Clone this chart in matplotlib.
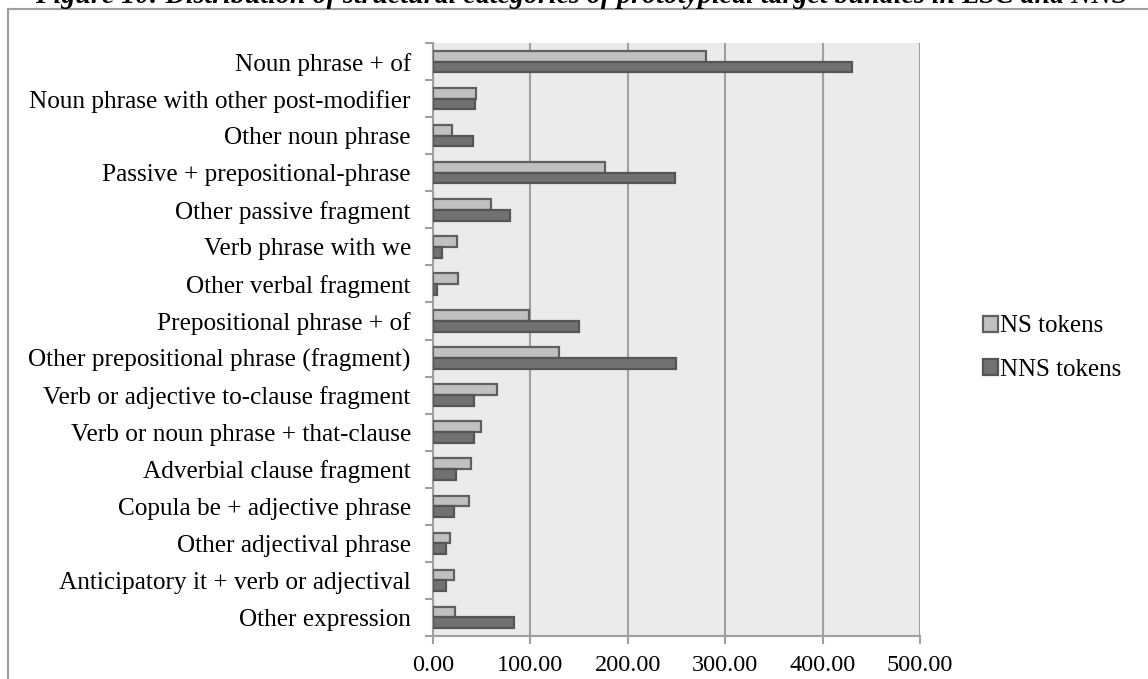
import matplotlib.pyplot as plt
from matplotlib.lines import Line2D
import numpy as np

categories = [
    "Noun phrase + of",
    "Noun phrase with other post-modifier",
    "Other noun phrase",
    "Passive + prepositional-phrase",
    "Other passive fragment",
    "Verb phrase with we",
    "Other verbal fragment",
    "Prepositional phrase + of",
    "Other prepositional phrase (fragment)",
    "Verb or adjective to-clause fragment",
    "Verb or noun phrase + that-clause",
    "Adverbial clause fragment",
    "Copula be + adjective phrase",
    "Other adjectival phrase",
    "Anticipatory it + verb or adjectival",
    "Other expression",
]
ns_tokens = [280, 44, 20, 177, 60, 25, 26, 99, 129, 66, 49, 39, 37, 17, 22, 23]
nns_tokens = [430, 43, 41, 248, 79, 9, 4.5, 150, 249, 42, 42, 24, 22, 13, 13, 83]
x_ticks = [0, 100, 200, 300, 400, 500]
title = "Figure 10: Distribution of structural categories of prototypical target bundles in LSC and NNS"

plt.rcParams['font.family'] = ['Liberation Serif', 'DejaVu Serif']

fig = plt.figure(figsize=(11.48, 6.79), dpi=100)
ax = fig.add_axes([433/1148, 1 - 636/679, (920 - 433)/1148, (636 - 43)/679])

grey = '#a0a0a0'
ax.set_facecolor('#ebebeb')
y = np.arange(len(categories))
h = 0.29
ax.barh(y - h/2, ns_tokens, height=h, color='#c0c0c0', edgecolor='#606060', linewidth=1.6, label='NS tokens', zorder=3)
ax.barh(y + h/2, nns_tokens, height=h, color='#717171', edgecolor='#555555', linewidth=1.6, label='NNS tokens', zorder=3)

ax.set_xlim(0, 500)
ax.set_ylim(len(categories) - 0.5, -0.5)
ax.set_xticks(x_ticks)
ax.set_xticklabels([f"{v:.2f}" for v in x_ticks], fontsize=17.5)
ax.set_yticks(y)
ax.set_yticklabels(categories, fontsize=18.2)
ax.set_yticks(np.arange(len(categories) + 1) - 0.5, minor=True)
ax.tick_params(axis='y', which='major', length=0, pad=16)
ax.tick_params(axis='y', which='minor', length=6, width=1.5, color=grey)
ax.tick_params(axis='x', length=6, width=1.5, color=grey, pad=8)
ax.grid(True, axis='x', color=grey, linewidth=1.5, zorder=1)
for s in ['top', 'right']:
    ax.spines[s].set_visible(False)
for s in ['left', 'bottom']:
    ax.spines[s].set_color(grey)
    ax.spines[s].set_linewidth(1.5)

leg = fig.legend(loc='upper left', bbox_to_anchor=(970/1148, 1 - 303/679), frameon=False,
                 fontsize=18, handlelength=0.6, handleheight=0.6, handletextpad=0.1,
                 labelspacing=0.85, borderpad=0)

# outer frame of the chart (cut off at right and bottom)
fig.add_artist(Line2D([8/1148, 8/1148], [0, 1 - 9/679], color=grey, linewidth=1.5))
fig.add_artist(Line2D([8/1148, 1], [1 - 9/679, 1 - 9/679], color=grey, linewidth=1.5))

# caption above the chart, partly cut off by the image edge
fig.text(581/1148, 1 - 3/679, title, ha='center', va='baseline', fontsize=20.2,
         fontweight='bold', fontstyle='italic')

fig.savefig('out.png', dpi=100)
